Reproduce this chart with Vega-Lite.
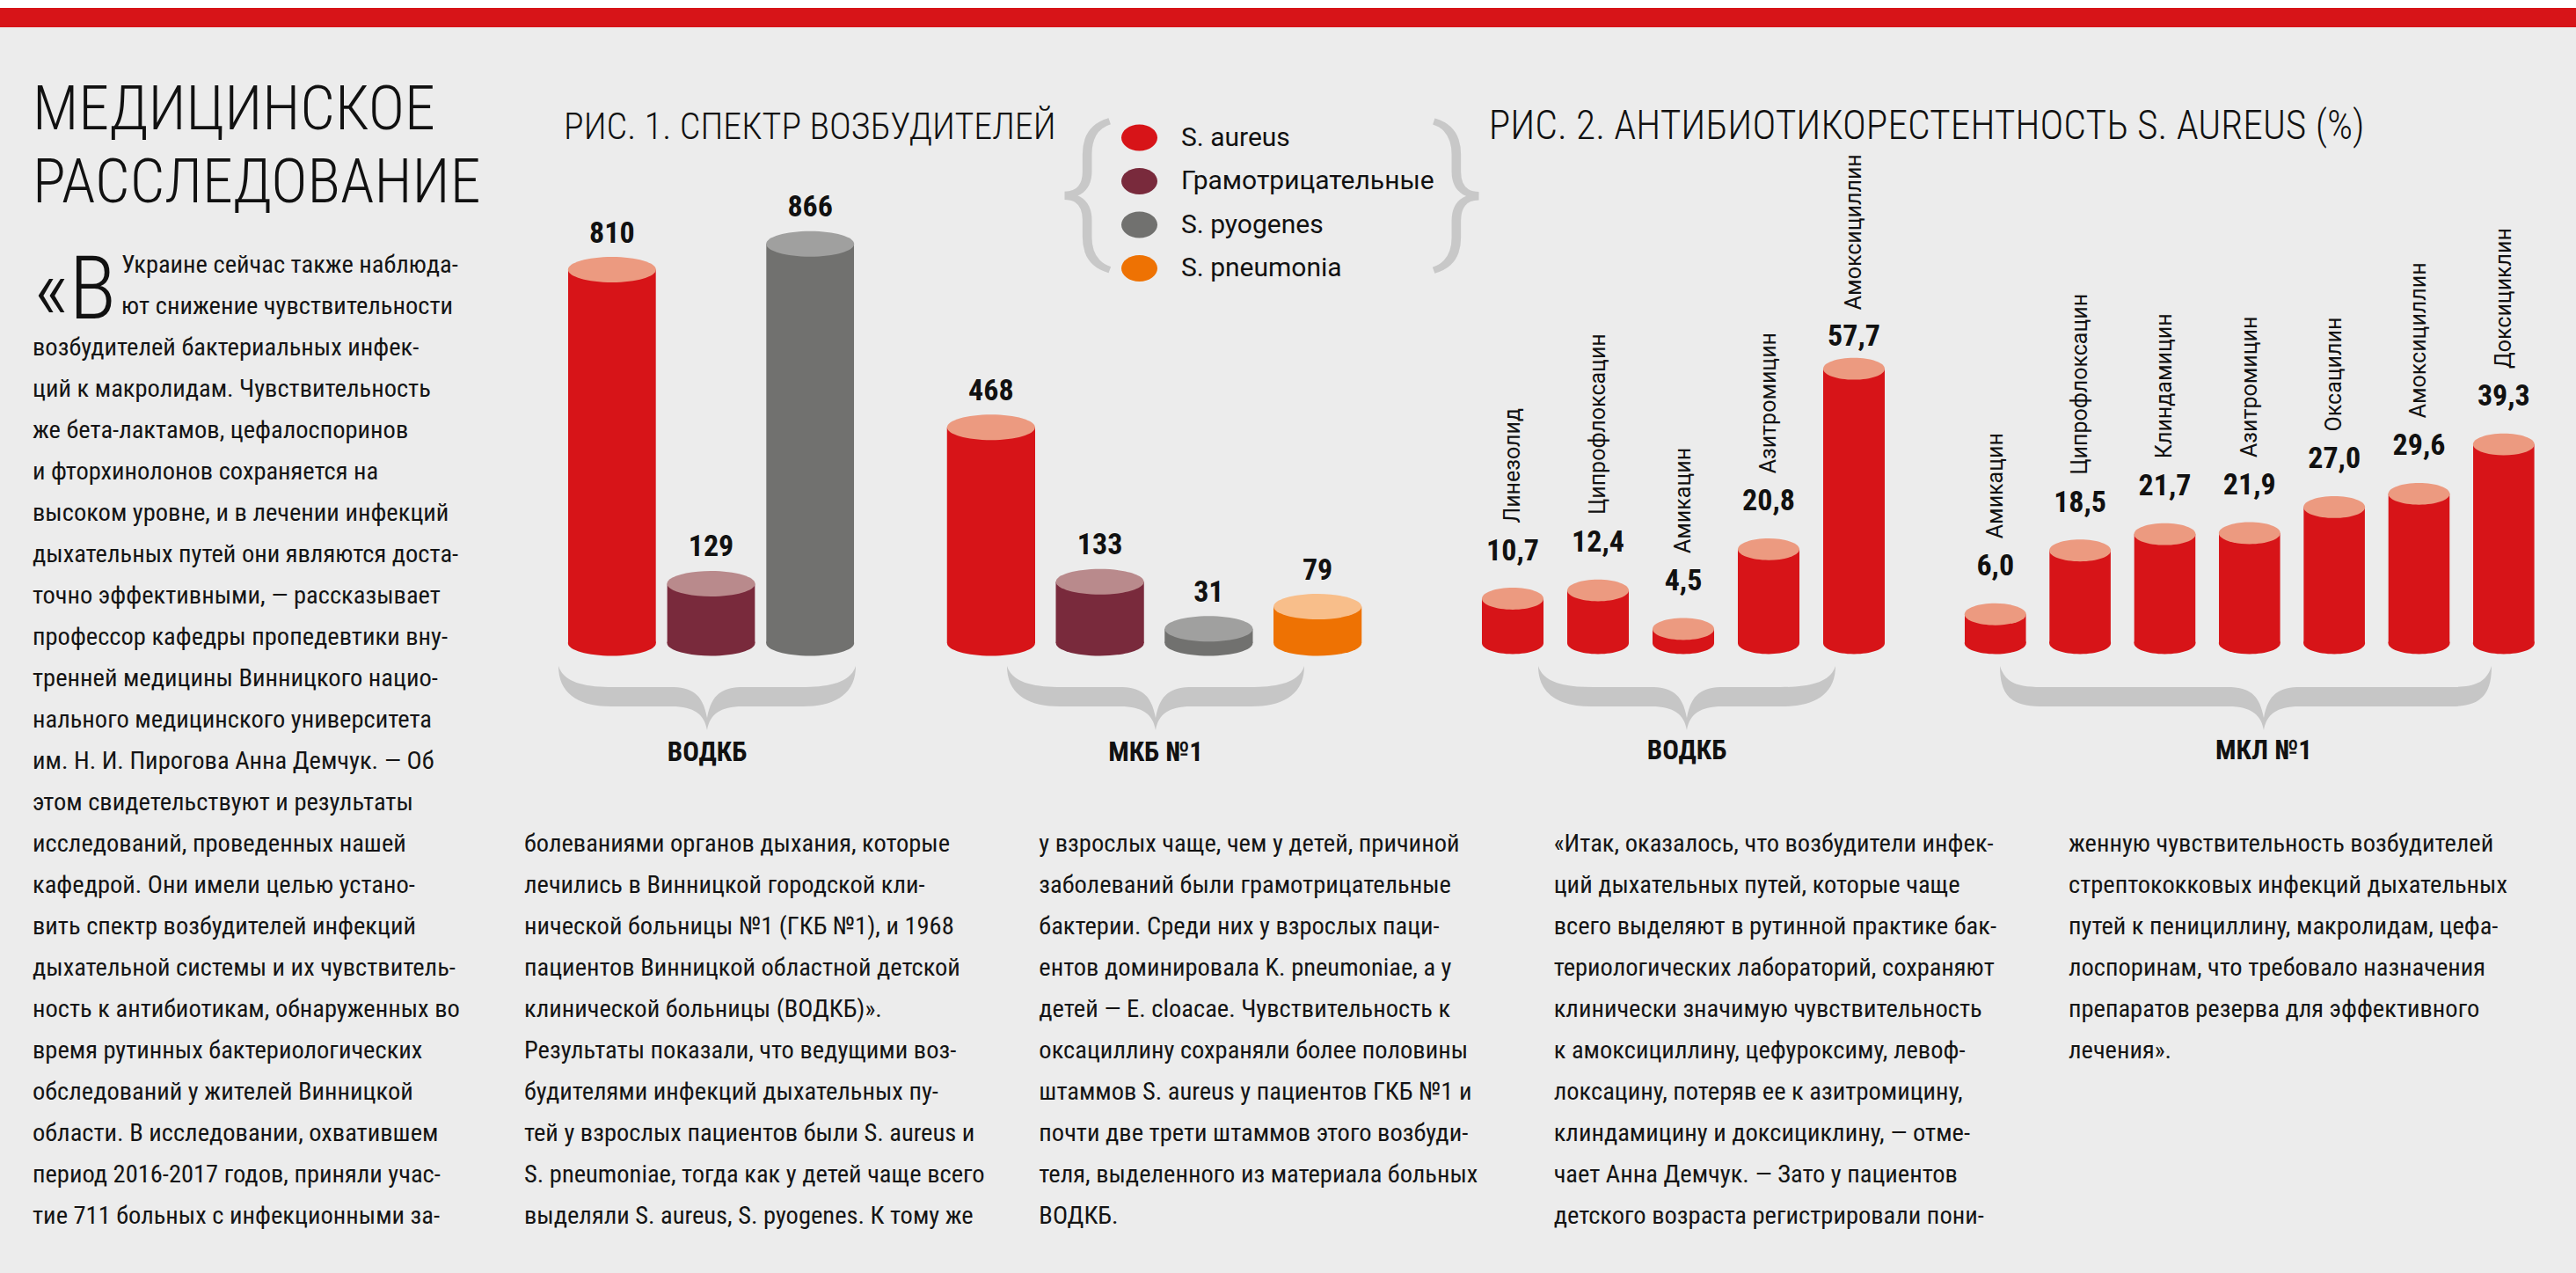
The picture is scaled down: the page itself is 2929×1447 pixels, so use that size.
{
  "$schema": "https://vega.github.io/schema/vega-lite/v6.json",
  "width": 2929,
  "height": 1447,
  "padding": 0,
  "autosize": {"type": "none"},
  "background": "#ECECEC",
  "config": {
    "view": {"stroke": null},
    "axis": {"disable": true},
    "locale": {"number": {"decimal": ",", "thousands": " ", "grouping": [3], "currency": ["", ""]}}
  },
  "datasets": {
    "fig1": [
      {"hospital": "ВОДКБ", "organism": "S. aureus", "value": 810},
      {"hospital": "ВОДКБ", "organism": "Грамотрицательные", "value": 129},
      {"hospital": "ВОДКБ", "organism": "S. pyogenes", "value": 866},
      {"hospital": "МКБ №1", "organism": "S. aureus", "value": 468},
      {"hospital": "МКБ №1", "organism": "Грамотрицательные", "value": 133},
      {"hospital": "МКБ №1", "organism": "S. pyogenes", "value": 31},
      {"hospital": "МКБ №1", "organism": "S. pneumonia", "value": 79}
    ],
    "fig2": [
      {"hospital": "ВОДКБ", "drug": "Линезолид", "value": 10.7},
      {"hospital": "ВОДКБ", "drug": "Ципрофлоксацин", "value": 12.4},
      {"hospital": "ВОДКБ", "drug": "Амикацин", "value": 4.5},
      {"hospital": "ВОДКБ", "drug": "Азитромицин", "value": 20.8},
      {"hospital": "ВОДКБ", "drug": "Амоксициллин", "value": 57.7},
      {"hospital": "МКЛ №1", "drug": "Амикацин", "value": 6.0},
      {"hospital": "МКЛ №1", "drug": "Ципрофлоксацин", "value": 18.5},
      {"hospital": "МКЛ №1", "drug": "Клиндамицин", "value": 21.7},
      {"hospital": "МКЛ №1", "drug": "Азитромицин", "value": 21.9},
      {"hospital": "МКЛ №1", "drug": "Оксацилин", "value": 27.0},
      {"hospital": "МКЛ №1", "drug": "Амоксициллин", "value": 29.6},
      {"hospital": "МКЛ №1", "drug": "Доксициклин", "value": 39.3}
    ],
    "titles": [
      {"role": "headline", "col": 1, "text": "МЕДИЦИНСКОЕ\nРАССЛЕДОВАНИЕ"},
      {"role": "drop", "col": 1, "text": "«В"},
      {"role": "fig1", "col": 2, "text": "РИС. 1. СПЕКТР ВОЗБУДИТЕЛЕЙ"},
      {"role": "fig2", "col": 4, "text": "РИС. 2. АНТИБИОТИКОРЕСТЕНТНОСТЬ S. AUREUS (%)"},
      {"role": "braceL", "col": 3, "text": "{"},
      {"role": "braceR", "col": 4, "text": "}"}
    ],
    "lead": [
      {"col": 1, "line": 1, "text": "Украине сейчас также наблюда-"},
      {"col": 1, "line": 2, "text": "ют снижение чувствительности"}
    ],
    "body": [
      {"col": 1, "line": 3, "text": "возбудителей бактериальных инфек-"},
      {"col": 1, "line": 4, "text": "ций к макролидам. Чувствительность"},
      {"col": 1, "line": 5, "text": "же бета-лактамов, цефалоспоринов"},
      {"col": 1, "line": 6, "text": "и фторхинолонов сохраняется на"},
      {"col": 1, "line": 7, "text": "высоком уровне, и в лечении инфекций"},
      {"col": 1, "line": 8, "text": "дыхательных путей они являются доста-"},
      {"col": 1, "line": 9, "text": "точно эффективными, — рассказывает"},
      {"col": 1, "line": 10, "text": "профессор кафедры пропедевтики вну-"},
      {"col": 1, "line": 11, "text": "тренней медицины Винницкого нацио-"},
      {"col": 1, "line": 12, "text": "нального медицинского университета"},
      {"col": 1, "line": 13, "text": "им. Н. И. Пирогова Анна Демчук. — Об"},
      {"col": 1, "line": 14, "text": "этом свидетельствуют и результаты"},
      {"col": 1, "line": 15, "text": "исследований, проведенных нашей"},
      {"col": 1, "line": 16, "text": "кафедрой. Они имели целью устано-"},
      {"col": 1, "line": 17, "text": "вить спектр возбудителей инфекций"},
      {"col": 1, "line": 18, "text": "дыхательной системы и их чувствитель-"},
      {"col": 1, "line": 19, "text": "ность к антибиотикам, обнаруженных во"},
      {"col": 1, "line": 20, "text": "время рутинных бактериологических"},
      {"col": 1, "line": 21, "text": "обследований у жителей Винницкой"},
      {"col": 1, "line": 22, "text": "области. В исследовании, охватившем"},
      {"col": 1, "line": 23, "text": "период 2016-2017 годов, приняли учас-"},
      {"col": 1, "line": 24, "text": "тие 711 больных с инфекционными за-"},
      {"col": 2, "line": 15, "text": "болеваниями органов дыхания, которые"},
      {"col": 2, "line": 16, "text": "лечились в Винницкой городской кли-"},
      {"col": 2, "line": 17, "text": "нической больницы №1 (ГКБ №1), и 1968"},
      {"col": 2, "line": 18, "text": "пациентов Винницкой областной детской"},
      {"col": 2, "line": 19, "text": "клинической больницы (ВОДКБ)»."},
      {"col": 2, "line": 20, "text": "Результаты показали, что ведущими воз-"},
      {"col": 2, "line": 21, "text": "будителями инфекций дыхательных пу-"},
      {"col": 2, "line": 22, "text": "тей у взрослых пациентов были S. aureus и"},
      {"col": 2, "line": 23, "text": "S. pneumoniae, тогда как у детей чаще всего"},
      {"col": 2, "line": 24, "text": "выделяли S. aureus, S. pyogenes. К тому же"},
      {"col": 3, "line": 15, "text": "у взрослых чаще, чем у детей, причиной"},
      {"col": 3, "line": 16, "text": "заболеваний были грамотрицательные"},
      {"col": 3, "line": 17, "text": "бактерии. Среди них у взрослых паци-"},
      {"col": 3, "line": 18, "text": "ентов доминировала K. pneumoniae, а у"},
      {"col": 3, "line": 19, "text": "детей — E. cloacae. Чувствительность к"},
      {"col": 3, "line": 20, "text": "оксациллину сохраняли более половины"},
      {"col": 3, "line": 21, "text": "штаммов S. aureus у пациентов ГКБ №1 и"},
      {"col": 3, "line": 22, "text": "почти две трети штаммов этого возбуди-"},
      {"col": 3, "line": 23, "text": "теля, выделенного из материала больных"},
      {"col": 3, "line": 24, "text": "ВОДКБ."},
      {"col": 4, "line": 15, "text": "«Итак, оказалось, что возбудители инфек-"},
      {"col": 4, "line": 16, "text": "ций дыхательных путей, которые чаще"},
      {"col": 4, "line": 17, "text": "всего выделяют в рутинной практике бак-"},
      {"col": 4, "line": 18, "text": "териологических лабораторий, сохраняют"},
      {"col": 4, "line": 19, "text": "клинически значимую чувствительность"},
      {"col": 4, "line": 20, "text": "к амоксициллину, цефуроксиму, левоф-"},
      {"col": 4, "line": 21, "text": "локсацину, потеряв ее к азитромицину,"},
      {"col": 4, "line": 22, "text": "клиндамицину и доксициклину, — отме-"},
      {"col": 4, "line": 23, "text": "чает Анна Демчук. — Зато у пациентов"},
      {"col": 4, "line": 24, "text": "детского возраста регистрировали пони-"},
      {"col": 5, "line": 15, "text": "женную чувствительность возбудителей"},
      {"col": 5, "line": 16, "text": "стрептококковых инфекций дыхательных"},
      {"col": 5, "line": 17, "text": "путей к пенициллину, макролидам, цефа-"},
      {"col": 5, "line": 18, "text": "лоспоринам, что требовало назначения"},
      {"col": 5, "line": 19, "text": "препаратов резерва для эффективного"},
      {"col": 5, "line": 20, "text": "лечения»."}
    ]
  },
  "resolve": {"scale": {"x": "independent", "y": "independent"}},
  "layer": [
    {
      "data": {"values": [{"band": "top"}]},
      "layer": [
        {
          "mark": {"type": "rect", "color": "#FFFFFF"},
          "encoding": {
            "y": {"datum": -7, "scale": {"domain": [1, 24], "range": [310, 1391], "nice": false, "zero": false}, "axis": null},
            "y2": {"datum": -5.404}
          }
        },
        {
          "mark": {"type": "rect", "color": "#D71418"},
          "encoding": {
            "y": {"datum": -5.404, "scale": {"domain": [1, 24], "range": [310, 1391], "nice": false, "zero": false}, "axis": null},
            "y2": {"datum": -4.936}
          }
        }
      ]
    },
    {
      "data": {"name": "body"},
      "encoding": {
        "x": {"field": "col", "type": "quantitative", "scale": {"domain": [1, 2, 5], "range": [37, 596, 2352], "nice": false, "zero": false}, "axis": null},
        "y": {"field": "line", "type": "quantitative", "scale": {"domain": [1, 24], "range": [310, 1391], "nice": false, "zero": false}, "axis": null}
      },
      "layer": [
        {
          "mark": {"type": "text", "align": "left", "baseline": "alphabetic", "font": "Roboto Condensed", "fontSize": 28.5, "color": "#141414"},
          "encoding": {"text": {"field": "text"}}
        },
        {
          "data": {"name": "lead"},
          "mark": {"type": "text", "align": "left", "baseline": "alphabetic", "font": "Roboto Condensed", "fontSize": 28.5, "color": "#141414", "dx": 101},
          "encoding": {"text": {"field": "text"}}
        }
      ]
    },
    {
      "data": {"name": "titles"},
      "transform": [{"filter": "datum.role === 'drop'"}],
      "encoding": {
        "x": {"field": "col", "type": "quantitative", "scale": {"domain": [1, 2, 5], "range": [37, 596, 2352], "nice": false, "zero": false}, "axis": null},
        "y": {"datum": 2, "scale": {"domain": [1, 24], "range": [310, 1391], "nice": false, "zero": false}, "axis": null}
      },
      "layer": [
        {
          "mark": {"type": "text", "align": "left", "baseline": "alphabetic", "font": "Roboto Condensed", "fontWeight": 300, "fontSize": 100, "color": "#111111", "dx": 1, "dy": 5},
          "encoding": {"text": {"field": "text"}}
        }
      ]
    },
    {
      "data": {"name": "titles"},
      "transform": [{"filter": "datum.role === 'headline'"}],
      "encoding": {
        "x": {"field": "col", "type": "quantitative", "scale": {"domain": [1, 2, 5], "range": [37, 596, 2352], "nice": false, "zero": false}, "axis": null},
        "y": {"datum": -2.468, "scale": {"domain": [1, 24], "range": [310, 1391], "nice": false, "zero": false}, "axis": null}
      },
      "layer": [
        {
          "mark": {"type": "text", "align": "left", "baseline": "alphabetic", "font": "Roboto Condensed", "fontWeight": 300, "fontSize": 70, "lineHeight": 83, "lineBreak": "\n", "color": "#111111"},
          "encoding": {"text": {"field": "text"}}
        }
      ]
    },
    {
      "data": {"name": "titles"},
      "transform": [{"filter": "datum.role === 'fig1'"}],
      "encoding": {
        "x": {"field": "col", "type": "quantitative", "scale": {"domain": [1, 2, 5], "range": [37, 596, 2352], "nice": false, "zero": false}, "axis": null},
        "y": {"datum": -2.234, "scale": {"domain": [1, 24], "range": [310, 1391], "nice": false, "zero": false}, "axis": null}
      },
      "layer": [
        {
          "mark": {"type": "text", "align": "left", "baseline": "alphabetic", "font": "Roboto Condensed", "fontWeight": 300, "fontSize": 42, "color": "#111111", "dx": 45},
          "encoding": {"text": {"field": "text"}}
        }
      ]
    },
    {
      "data": {"name": "titles"},
      "transform": [{"filter": "datum.role === 'fig2'"}],
      "encoding": {
        "x": {"field": "col", "type": "quantitative", "scale": {"domain": [1, 2, 5], "range": [37, 596, 2352], "nice": false, "zero": false}, "axis": null},
        "y": {"datum": -2.234, "scale": {"domain": [1, 24], "range": [310, 1391], "nice": false, "zero": false}, "axis": null}
      },
      "layer": [
        {
          "mark": {"type": "text", "align": "left", "baseline": "alphabetic", "font": "Roboto Condensed", "fontWeight": 300, "fontSize": 45.5, "color": "#111111", "dx": -74},
          "encoding": {"text": {"field": "text"}}
        }
      ]
    },
    {
      "data": {"name": "titles"},
      "transform": [{"filter": "datum.role === 'braceL'"}],
      "encoding": {
        "x": {"field": "col", "type": "quantitative", "scale": {"domain": [1, 2, 5], "range": [37, 596, 2352], "nice": false, "zero": false}, "axis": null},
        "y": {"datum": 0.255, "scale": {"domain": [1, 24], "range": [310, 1391], "nice": false, "zero": false}, "axis": null}
      },
      "layer": [
        {
          "mark": {"type": "text", "align": "center", "baseline": "alphabetic", "font": "Roboto", "fontWeight": 300, "fontSize": 180, "color": "#C8C8C8", "dx": 53},
          "encoding": {"text": {"field": "text"}}
        }
      ]
    },
    {
      "data": {"name": "titles"},
      "transform": [{"filter": "datum.role === 'braceR'"}],
      "encoding": {
        "x": {"field": "col", "type": "quantitative", "scale": {"domain": [1, 2, 5], "range": [37, 596, 2352], "nice": false, "zero": false}, "axis": null},
        "y": {"datum": 0.255, "scale": {"domain": [1, 24], "range": [310, 1391], "nice": false, "zero": false}, "axis": null}
      },
      "layer": [
        {
          "mark": {"type": "text", "align": "center", "baseline": "alphabetic", "font": "Roboto", "fontWeight": 300, "fontSize": 180, "color": "#C8C8C8", "dx": -109},
          "encoding": {"text": {"field": "text"}}
        }
      ]
    },
    {
      "data": {"name": "fig1"},
      "transform": [{"filter": "datum.hospital === 'ВОДКБ'"}],
      "encoding": {
        "x": {"field": "organism", "type": "nominal", "scale": {"type": "band", "domain": ["S. aureus", "Грамотрицательные", "S. pyogenes"], "range": [639.5, 977.5], "paddingInner": 0.115, "paddingOuter": 0.0575}, "axis": null},
        "y": {"field": "value", "type": "quantitative", "scale": {"domain": [0, 1000], "range": [731, 207], "nice": false}, "axis": null}
      },
      "layer": [
        {
          "mark": {"type": "point", "filled": true, "opacity": 1, "size": 10000, "strokeWidth": 0, "shape": "M -1 0 C -1 -0.16 -0.552 -0.29 0 -0.29 C 0.552 -0.29 1 -0.16 1 0 C 1 0.16 0.552 0.29 0 0.29 C -0.552 0.29 -1 0.16 -1 0 Z"},
          "encoding": {"y": {"datum": 0}, "color": {"field": "organism", "type": "nominal"}}
        },
        {
          "mark": {"type": "bar"},
          "encoding": {
            "y2": {"datum": 0},
            "color": {"field": "organism", "type": "nominal",
              "scale": {"domain": ["S. aureus", "Грамотрицательные", "S. pyogenes", "S. pneumonia"], "range": ["#D71418", "#792A3C", "#71716F", "#EE7203"]},
              "legend": {"orient": "none", "legendX": 1275, "legendY": 136, "title": null, "padding": 0, "symbolSize": 1681, "symbolStrokeWidth": 0,
                "symbolType": "M -1 0 C -1 -0.403 -0.552 -0.73 0 -0.73 C 0.552 -0.73 1 -0.403 1 0 C 1 0.403 0.552 0.73 0 0.73 C -0.552 0.73 -1 0.403 -1 0 Z",
                "labelFont": "Roboto", "labelFontSize": 30, "labelColor": "#111111", "labelOffset": 27, "rowPadding": 13.5, "labelLimit": 500}
            }
          }
        },
        {
          "mark": {"type": "point", "filled": true, "opacity": 1, "size": 10000, "strokeWidth": 0, "shape": "M -1 0 C -1 -0.16 -0.552 -0.29 0 -0.29 C 0.552 -0.29 1 -0.16 1 0 C 1 0.16 0.552 0.29 0 0.29 C -0.552 0.29 -1 0.16 -1 0 Z"},
          "encoding": {"fill": {"field": "organism", "type": "nominal", "scale": {"domain": ["S. aureus", "Грамотрицательные", "S. pyogenes", "S. pneumonia"], "range": ["#EC9A80", "#B98A8C", "#A0A09F", "#F8BE8A"]}, "legend": null}}
        },
        {
          "mark": {"type": "text", "font": "Roboto Condensed", "fontWeight": "bold", "fontSize": 34, "baseline": "alphabetic", "align": "center", "dy": -31, "color": "#111111"},
          "encoding": {"text": {"field": "value", "type": "quantitative", "format": "d"}}
        }
      ]
    },
    {
      "data": {"name": "fig1"},
      "transform": [{"filter": "datum.hospital === 'МКБ №1'"}],
      "encoding": {
        "x": {"field": "organism", "type": "nominal", "scale": {"type": "band", "domain": ["S. aureus", "Грамотрицательные", "S. pyogenes", "S. pneumonia"], "range": [1065, 1560], "paddingInner": 0.19, "paddingOuter": 0.095}, "axis": null},
        "y": {"field": "value", "type": "quantitative", "scale": {"domain": [0, 1000], "range": [731, 207], "nice": false}, "axis": null}
      },
      "layer": [
        {
          "mark": {"type": "point", "filled": true, "opacity": 1, "size": 10000, "strokeWidth": 0, "shape": "M -1 0 C -1 -0.16 -0.552 -0.29 0 -0.29 C 0.552 -0.29 1 -0.16 1 0 C 1 0.16 0.552 0.29 0 0.29 C -0.552 0.29 -1 0.16 -1 0 Z"},
          "encoding": {"y": {"datum": 0}, "color": {"field": "organism", "type": "nominal"}}
        },
        {
          "mark": {"type": "bar"},
          "encoding": {
            "y2": {"datum": 0},
            "color": {"field": "organism", "type": "nominal",
              "scale": {"domain": ["S. aureus", "Грамотрицательные", "S. pyogenes", "S. pneumonia"], "range": ["#D71418", "#792A3C", "#71716F", "#EE7203"]},
              "legend": {"orient": "none", "legendX": 1275, "legendY": 136, "title": null, "padding": 0, "symbolSize": 1681, "symbolStrokeWidth": 0,
                "symbolType": "M -1 0 C -1 -0.403 -0.552 -0.73 0 -0.73 C 0.552 -0.73 1 -0.403 1 0 C 1 0.403 0.552 0.73 0 0.73 C -0.552 0.73 -1 0.403 -1 0 Z",
                "labelFont": "Roboto", "labelFontSize": 30, "labelColor": "#111111", "labelOffset": 27, "rowPadding": 13.5, "labelLimit": 500}
            }
          }
        },
        {
          "mark": {"type": "point", "filled": true, "opacity": 1, "size": 10000, "strokeWidth": 0, "shape": "M -1 0 C -1 -0.16 -0.552 -0.29 0 -0.29 C 0.552 -0.29 1 -0.16 1 0 C 1 0.16 0.552 0.29 0 0.29 C -0.552 0.29 -1 0.16 -1 0 Z"},
          "encoding": {"fill": {"field": "organism", "type": "nominal", "scale": {"domain": ["S. aureus", "Грамотрицательные", "S. pyogenes", "S. pneumonia"], "range": ["#EC9A80", "#B98A8C", "#A0A09F", "#F8BE8A"]}, "legend": null}}
        },
        {
          "mark": {"type": "text", "font": "Roboto Condensed", "fontWeight": "bold", "fontSize": 34, "baseline": "alphabetic", "align": "center", "dy": -31, "color": "#111111"},
          "encoding": {"text": {"field": "value", "type": "quantitative", "format": "d"}}
        }
      ]
    },
    {
      "data": {"name": "fig2"},
      "transform": [{"filter": "datum.hospital === 'ВОДКБ'"}],
      "encoding": {
        "x": {"field": "drug", "type": "nominal", "scale": {"type": "band", "domain": ["Линезолид", "Ципрофлоксацин", "Амикацин", "Азитромицин", "Амоксициллин"], "range": [1671.5, 2156.5], "paddingInner": 0.278, "paddingOuter": 0.139}, "axis": null},
        "y": {"field": "value", "type": "quantitative", "scale": {"domain": [0, 60], "range": [740, 406.4], "nice": false}, "axis": null}
      },
      "layer": [
        {
          "mark": {"type": "point", "filled": true, "opacity": 1, "size": 4900, "strokeWidth": 0, "color": "#D71418", "yOffset": -9, "shape": "M -1 0 C -1 -0.196 -0.552 -0.355 0 -0.355 C 0.552 -0.355 1 -0.196 1 0 C 1 0.196 0.552 0.355 0 0.355 C -0.552 0.355 -1 0.196 -1 0 Z"},
          "encoding": {"y": {"datum": 0}}
        },
        {
          "mark": {"type": "bar", "color": "#D71418", "y2Offset": -9},
          "encoding": {"y2": {"datum": 0}}
        },
        {
          "mark": {"type": "point", "filled": true, "opacity": 1, "size": 4900, "strokeWidth": 0, "color": "#EC9A80", "shape": "M -1 0 C -1 -0.196 -0.552 -0.355 0 -0.355 C 0.552 -0.355 1 -0.196 1 0 C 1 0.196 0.552 0.355 0 0.355 C -0.552 0.355 -1 0.196 -1 0 Z"},
          "encoding": {}
        },
        {
          "transform": [{"filter": "datum.value < 50"}],
          "mark": {"type": "text", "font": "Roboto Condensed", "fontWeight": "bold", "fontSize": 34, "baseline": "alphabetic", "align": "center", "dy": -44, "color": "#111111"},
          "encoding": {"text": {"field": "value", "type": "quantitative", "format": ".1f"}}
        },
        {
          "transform": [{"filter": "datum.value >= 50"}],
          "mark": {"type": "text", "font": "Roboto Condensed", "fontWeight": "bold", "fontSize": 34, "baseline": "alphabetic", "align": "center", "dy": -26, "color": "#111111"},
          "encoding": {"text": {"field": "value", "type": "quantitative", "format": ".1f"}}
        },
        {
          "transform": [{"filter": "datum.value < 50"}],
          "mark": {"type": "text", "font": "Roboto", "fontSize": 25, "angle": 270, "align": "left", "baseline": "middle", "dx": 86, "color": "#111111"},
          "encoding": {"text": {"field": "drug"}}
        },
        {
          "transform": [{"filter": "datum.value >= 50"}],
          "mark": {"type": "text", "font": "Roboto", "fontSize": 25, "angle": 270, "align": "left", "baseline": "middle", "dx": 67, "color": "#111111"},
          "encoding": {"text": {"field": "drug"}}
        }
      ]
    },
    {
      "data": {"name": "fig2"},
      "transform": [{"filter": "datum.hospital === 'МКЛ №1'"}],
      "encoding": {
        "x": {"field": "drug", "type": "nominal", "scale": {"type": "band", "domain": ["Амикацин", "Ципрофлоксацин", "Клиндамицин", "Азитромицин", "Оксацилин", "Амоксициллин", "Доксициклин"], "range": [2220.6, 2895], "paddingInner": 0.278, "paddingOuter": 0.139}, "axis": null},
        "y": {"field": "value", "type": "quantitative", "scale": {"domain": [0, 40], "range": [733, 501], "nice": false}, "axis": null}
      },
      "layer": [
        {
          "mark": {"type": "point", "filled": true, "opacity": 1, "size": 4900, "strokeWidth": 0, "color": "#D71418", "yOffset": -2, "shape": "M -1 0 C -1 -0.196 -0.552 -0.355 0 -0.355 C 0.552 -0.355 1 -0.196 1 0 C 1 0.196 0.552 0.355 0 0.355 C -0.552 0.355 -1 0.196 -1 0 Z"},
          "encoding": {"y": {"datum": 0}}
        },
        {
          "mark": {"type": "bar", "color": "#D71418", "y2Offset": -2},
          "encoding": {"y2": {"datum": 0}}
        },
        {
          "mark": {"type": "point", "filled": true, "opacity": 1, "size": 4900, "strokeWidth": 0, "color": "#EC9A80", "shape": "M -1 0 C -1 -0.196 -0.552 -0.355 0 -0.355 C 0.552 -0.355 1 -0.196 1 0 C 1 0.196 0.552 0.355 0 0.355 C -0.552 0.355 -1 0.196 -1 0 Z"},
          "encoding": {}
        },
        {
          "mark": {"type": "text", "font": "Roboto Condensed", "fontWeight": "bold", "fontSize": 34, "baseline": "alphabetic", "align": "center", "dy": -44, "color": "#111111"},
          "encoding": {"text": {"field": "value", "type": "quantitative", "format": ".1f"}}
        },
        {
          "mark": {"type": "text", "font": "Roboto", "fontSize": 25, "angle": 270, "align": "left", "baseline": "middle", "dx": 86, "color": "#111111"},
          "encoding": {"text": {"field": "drug"}}
        }
      ]
    },
    {
      "data": {"name": "fig1"},
      "transform": [{"aggregate": [{"op": "sum", "field": "value", "as": "total"}], "groupby": ["hospital"]}],
      "encoding": {
        "x": {"field": "hospital", "type": "nominal", "scale": {"type": "point", "domain": ["ВОДКБ", "МКБ №1"], "range": [804, 1314], "padding": 0}, "axis": null},
        "y": {"datum": 0, "scale": {"domain": [0, 1000], "range": [731, 207], "nice": false}, "axis": null}
      },
      "layer": [
        {
          "mark": {"type": "point", "filled": true, "opacity": 1, "size": 4, "color": "#C6C6C6", "strokeWidth": 0, "yOffset": 61,
            "shape": "M -169 -35 C -169 -2 -144 11 -109 11 L -40 11 C -15 11 -3 20 0 38 C 3 20 15 11 40 11 L 109 11 C 144 11 169 -2 169 -35 C 163 -16 139 -11 107 -11 L 42 -11 C 18 -11 5 -4 0 24 C -5 -4 -18 -11 -42 -11 L -107 -11 C -139 -11 -163 -16 -169 -35 Z"},
          "encoding": {}
        },
        {
          "mark": {"type": "text", "font": "Roboto Condensed", "fontWeight": "bold", "fontSize": 31, "baseline": "alphabetic", "align": "center", "yOffset": 134, "color": "#111111"},
          "encoding": {"text": {"field": "hospital"}}
        }
      ]
    },
    {
      "data": {"name": "fig2"},
      "transform": [{"aggregate": [{"op": "mean", "field": "value", "as": "mean"}], "groupby": ["hospital"]}],
      "encoding": {
        "x": {"field": "hospital", "type": "nominal", "scale": {"type": "point", "domain": ["ВОДКБ", "МКЛ №1"], "range": [1918, 2574], "padding": 0}, "axis": null},
        "y": {"datum": 0, "scale": {"domain": [0, 60], "range": [740, 406.4], "nice": false}, "axis": null}
      },
      "layer": [
        {
          "mark": {"type": "point", "filled": true, "opacity": 1, "size": 4, "color": "#C6C6C6", "strokeWidth": 0, "yOffset": 52},
          "encoding": {
            "shape": {"field": "hospital", "type": "nominal", "legend": null,
              "scale": {"domain": ["ВОДКБ", "МКЛ №1"], "range": [
                "M -169 -35 C -169 -2 -144 11 -109 11 L -40 11 C -15 11 -3 20 0 38 C 3 20 15 11 40 11 L 109 11 C 144 11 169 -2 169 -35 C 163 -16 139 -11 107 -11 L 42 -11 C 18 -11 5 -4 0 24 C -5 -4 -18 -11 -42 -11 L -107 -11 C -139 -11 -163 -16 -169 -35 Z",
                "M -300 -35 C -300 -5 -290 11 -255 11 L -40 11 C -15 11 -3 20 0 38 C 3 20 15 11 40 11 L 214 11 C 249 11 259 -5 259 -35 C 253 -16 240 -11 212 -11 L 42 -11 C 18 -11 5 -4 0 24 C -5 -4 -18 -11 -42 -11 L -253 -11 C -281 -11 -294 -16 -300 -35 Z"
              ]}
            }
          }
        },
        {
          "mark": {"type": "text", "font": "Roboto Condensed", "fontWeight": "bold", "fontSize": 31, "baseline": "alphabetic", "align": "center", "yOffset": 123, "color": "#111111"},
          "encoding": {"text": {"field": "hospital"}}
        }
      ]
    }
  ]
}
